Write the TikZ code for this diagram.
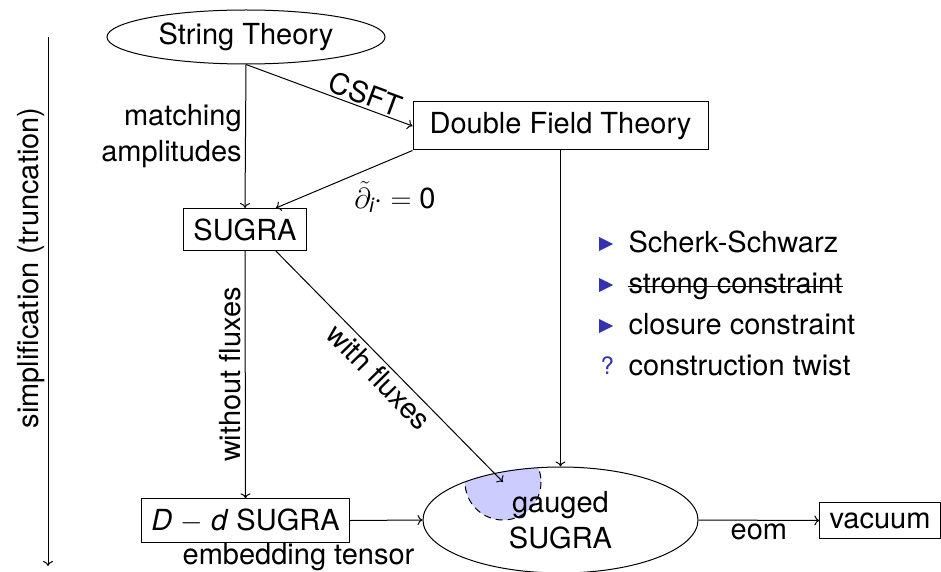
\RequirePackage{fix-cm}
\documentclass[tikz,border=0pt]{standalone}
\usepackage{amsmath}
\usepackage{fontspec}
\setmainfont{TeX Gyre Heros}
\usetikzlibrary{shapes.geometric,calc,arrows.meta}
\definecolor{struct}{rgb}{0.2,0.2,0.7}
\begin{document}
\begin{tikzpicture}[x=1pt,y=-1pt, line width=1pt,
  font=\fontsize{29}{36.5}\selectfont,
  >={To[length=5pt,width=10pt]},
  box/.style={draw, rectangle, inner sep=9.67pt},
  ell/.style={draw, ellipse, inner sep=0pt},
  arr/.style={->},
  item/.style={anchor=base west, inner sep=0pt},
  bullet/.style={fill=struct}]
\useasboundingbox (0,0) rectangle (941,572);
\coordinate (tip) at (503,482);
% highlighted region inside the gauged SUGRA ellipse
\begin{scope}
  \clip (560.5,520) ellipse [x radius=137.5, y radius=53];
  \filldraw[fill=blue!20, dash pattern=on 7pt off 5pt] (tip) circle [radius=38];
\end{scope}
% nodes
\node[ell, minimum width=278pt, minimum height=54pt] (st) at (246,37) {String Theory};
\node[box, minimum width=295pt, minimum height=48pt] (dft) at (560.5,126) {Double Field Theory};
\node[box, minimum height=42pt] (sugra) at (245,229.5) {SUGRA};
\node[box, minimum height=43pt] (dd) at (245.5,520.5) {\textit{D} $-$ \textit{d} SUGRA};
\node[ell, minimum width=275pt, minimum height=106pt, align=center] (gs) at (560.5,520) {gauged\\SUGRA};
\node[box] (vac) at (880,520.5) {vacuum};
% connectors
\draw[arr] (st.south) -- node[midway, left, align=right] {matching\\amplitudes} (sugra.north);
\draw[arr] (st.south) -- node[pos=0.69, sloped, above, inner sep=2pt] {CSFT} (dft.west);
\draw[arr] (dft.south west) -- ($(sugra.north)!0.5!(sugra.north east)$);
\node (dt) at (395,197) {$\tilde{\partial}_{\textit{i}}\cdot=\mbox{0}$};
\draw[arr] (dft.south) -- (gs.north);
\draw[arr] ($(sugra.south)!0.5!(sugra.south east)$) -- node[midway, sloped, below] {with fluxes} (tip);
\draw[arr] (sugra.south) -- node[midway, rotate=90, anchor=south] {without fluxes} (dd.north);
\draw[arr] (dd.east) -- (gs.west);
\node (emb) at (298.5,557) {embedding tensor};
\draw[arr] (gs.east) -- node[midway, below] {eom} (vac.west);
% left axis
\coordinate (ltop) at (48,37);
\coordinate (lbot) at (48,566);
\draw[arr] (ltop) -- (lbot);
\node[rotate=90, inner sep=0pt] (simp) at (31,268) {simplification (truncation)};
% list
\node[item] (b1) at (628,252) {Scherk-Schwarz};
\node[item] (b2) at (628,293) {strong constraint};
\node[item] (b3) at (628,334) {closure constraint};
\node[item] (b4) at (628,375) {construction twist};
\draw ($(b2.base west)+(0,-7)$) -- ($(b2.base east)+(0,-7)$);
\fill[bullet] (599,237) -- (613,244) -- (599,251) -- cycle;
\fill[bullet] (599,278) -- (613,285) -- (599,292) -- cycle;
\fill[bullet] (599,319) -- (613,326) -- (599,333) -- cycle;
\node[item, text=struct, font=\fontsize{24}{28}\selectfont] (q) at (600,374) {?};
\end{tikzpicture}
\end{document}
